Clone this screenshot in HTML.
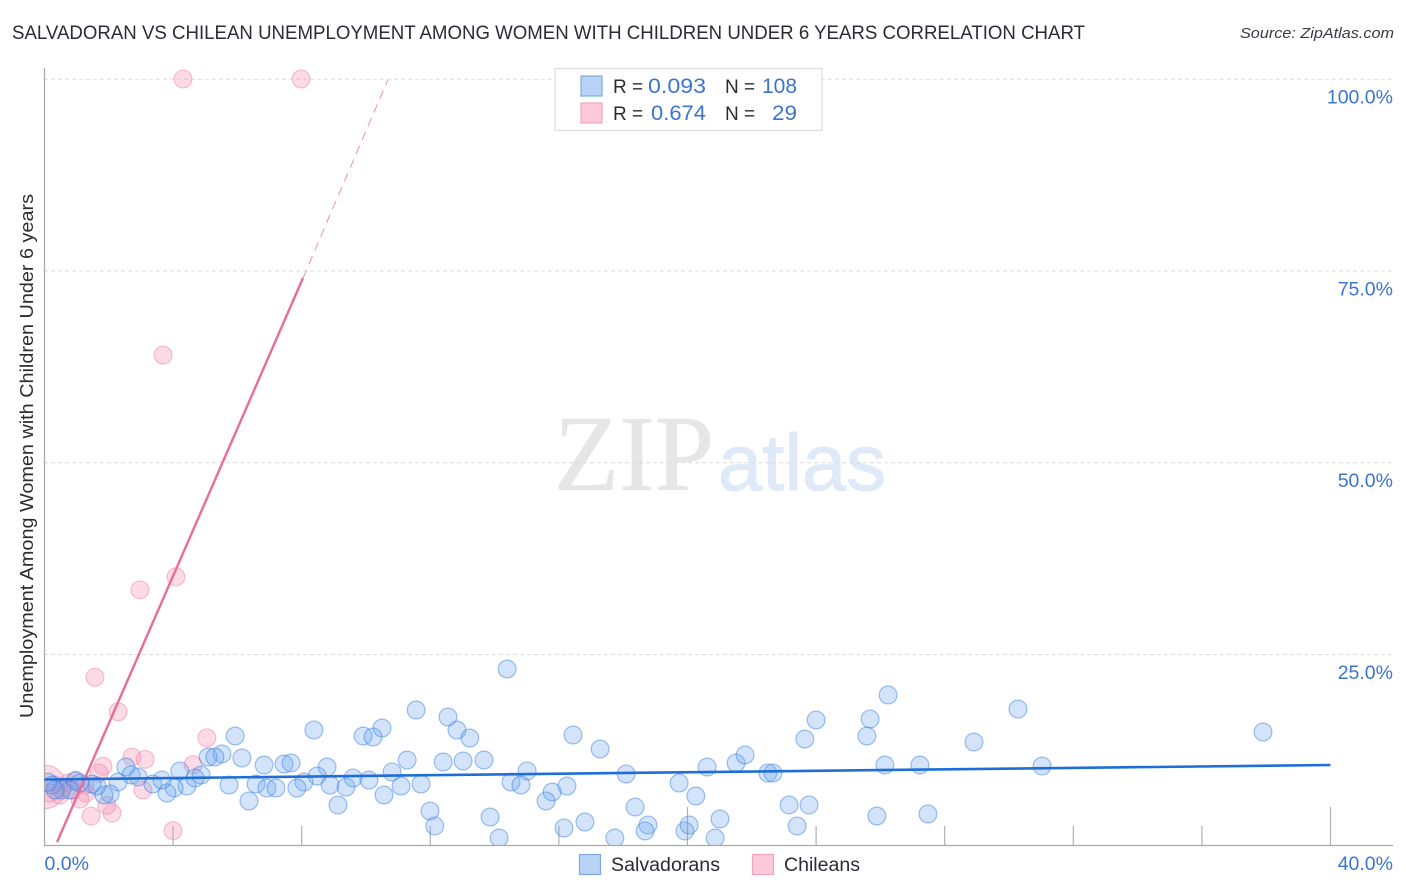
<!DOCTYPE html>
<html lang="en">
<head>
<meta charset="utf-8">
<title>Salvadoran vs Chilean Unemployment Correlation Chart</title>
<style>
html,body{margin:0;padding:0;background:#fff;}
svg{display:block;font-family:"Liberation Sans",sans-serif;}
</style>
</head>
<body>
<svg id="chart" width="1406" height="892" viewBox="0 0 1406 892" xmlns="http://www.w3.org/2000/svg">
  <defs>
    <clipPath id="plot-clip"><rect x="45" y="60" width="1350" height="785"/></clipPath>
  </defs>
  <rect x="0" y="0" width="1406" height="892" fill="#fff"/>
  <text x="12" y="39" font-size="19" fill="#2b2b33" textLength="1073" lengthAdjust="spacingAndGlyphs">SALVADORAN VS CHILEAN UNEMPLOYMENT AMONG WOMEN WITH CHILDREN UNDER 6 YEARS CORRELATION CHART</text>
  <text x="1394" y="38" font-size="15" font-style="italic" fill="#3a3a42" text-anchor="end" textLength="154" lengthAdjust="spacingAndGlyphs">Source: ZipAtlas.com</text>
  <g>
    <text x="554" y="490" font-family="'Liberation Serif',serif" font-size="108" fill="#e6e6e6" stroke="#e6e6e6" stroke-width="0.6" textLength="160" lengthAdjust="spacingAndGlyphs">ZIP</text>
    <text x="718" y="490" font-size="80" fill="#dfe9f8" stroke="#dfe9f8" stroke-width="1" textLength="168" lengthAdjust="spacingAndGlyphs">atlas</text>
  </g>
  <g id="grid"></g>
  <g id="axes"></g>
  <g id="pink-points" clip-path="url(#plot-clip)"></g>
  <g id="blue-points" clip-path="url(#plot-clip)"></g>
  <g id="trends"></g>
  <g id="tick-labels"></g>
  <text transform="translate(33,456) rotate(-90)" font-size="18" fill="#2b2b33" text-anchor="middle" textLength="524" lengthAdjust="spacingAndGlyphs">Unemployment Among Women with Children Under 6 years</text>

  <g>
    <rect x="555" y="68.5" width="267" height="62" fill="#fff" stroke="#dcdcdc" stroke-width="1.2"/>
    <rect x="581" y="76" width="21" height="20" fill="#b9d3f6" stroke="#7fa9e4" stroke-width="1.2"/>
    <rect x="581" y="103" width="21" height="20" fill="#fcc9da" stroke="#f2a3bf" stroke-width="1.2"/>
    <text x="613" y="93" font-size="19" fill="#2b2b33">R =</text>
    <text x="648" y="93" font-size="21" fill="#3b74d1" textLength="58" lengthAdjust="spacingAndGlyphs">0.093</text>
    <text x="725" y="93" font-size="19" fill="#2b2b33">N =</text>
    <text x="762" y="93" font-size="21" fill="#3b74d1" textLength="35" lengthAdjust="spacingAndGlyphs">108</text>
    <text x="613" y="120" font-size="19" fill="#2b2b33">R =</text>
    <text x="651" y="120" font-size="21" fill="#3b74d1" textLength="55" lengthAdjust="spacingAndGlyphs">0.674</text>
    <text x="725" y="120" font-size="19" fill="#2b2b33">N =</text>
    <text x="772" y="120" font-size="21" fill="#3b74d1" textLength="25" lengthAdjust="spacingAndGlyphs">29</text>
  </g>

  <g>
    <rect x="579.5" y="854.5" width="21" height="20" fill="#b9d3f6" stroke="#7fa9e4" stroke-width="1.2"/>
    <text x="611" y="871" font-size="19" fill="#2b2b33" textLength="109" lengthAdjust="spacingAndGlyphs">Salvadorans</text>
    <rect x="752.5" y="854.5" width="21" height="20" fill="#fcc9da" stroke="#f2a3bf" stroke-width="1.2"/>
    <text x="784" y="871" font-size="19" fill="#2b2b33" textLength="76" lengthAdjust="spacingAndGlyphs">Chileans</text>
  </g>
</svg>
<script>
const salvadoranX = [14.39,26.24,30.28,37.90,11.56,12.55,12.83,13.23,10.50,9.91,10.22,8.38,5.93,5.52,5.09,5.30,6.14,6.83,7.45,7.67,8.79,8.48,8.07,8.88,9.38,9.60,10.09,10.81,11.28,12.40,13.02,13.67,15.01,14.51,14.82,16.25,15.79,15.60,16.44,17.28,18.09,19.74,20.61,21.51,21.79,22.50,22.66,23.65,24.00,25.68,25.58,26.14,27.23,28.91,31.03,20.26,23.16,23.78,18.37,11.99,12.14,13.86,14.14,16.16,16.81,17.74,18.77,18.68,19.92,20.05,20.86,21.01,23.41,25.89,27.48,11.71,11.09,10.56,9.13,6.36,6.58,6.92,7.20,7.85,5.74,4.43,4.03,3.81,3.37,3.65,4.21,4.87,4.68,2.91,2.53,2.69,2.29,2.04,1.85,1.63,1.48,1.10,0.95,0.79,0.54,0.23,0.33,0.11];
const salvadoranY = [23.08,19.69,17.86,14.86,17.73,16.82,15.12,14.08,15.38,14.34,14.21,15.12,14.34,11.99,11.60,11.60,11.47,10.56,10.69,10.82,10.30,9.13,8.34,7.95,7.69,8.87,8.60,9.65,11.21,10.95,11.08,11.21,9.78,8.34,7.95,7.82,7.04,5.87,14.47,12.65,9.39,8.21,10.30,10.82,11.86,9.52,9.52,13.95,16.43,16.56,14.34,10.56,10.56,13.56,10.43,6.52,5.35,5.35,5.08,4.56,2.61,3.78,1.04,2.35,3.13,1.04,2.74,1.96,1.96,2.74,1.04,3.52,2.61,3.91,4.17,8.08,7.82,6.65,5.35,5.87,8.08,7.56,7.56,7.56,7.95,7.82,7.56,6.91,8.08,8.60,9.78,9.26,8.87,9.00,10.30,9.26,8.34,6.78,6.65,7.82,8.08,8.21,8.47,7.30,7.30,7.95,7.30,8.34];
const chileanX = [4.31,7.98,3.69,2.97,4.09,1.57,2.29,5.05,2.72,3.13,4.62,1.82,1.70,0.98,1.29,1.10,1.94,1.45,2.10,4.00,3.06,0.00,0.33,0.54,0.73,0.86,0.48,0.17,1.26];
const chileanY = [100,100,64.0,33.4,35.1,22.0,17.5,14.1,11.6,11.3,10.6,10.4,9.5,8.6,6.9,6.1,5.3,3.9,4.3,2.0,7.3,7.7,7.95,7.56,8.2,7.3,6.65,6.9,7.95];
const chileanWeight = [1,1,1,1,1,1,1,1,1,1,1,1,1,1,1,1,1,1,1,1,1,2.45,1,1,1,1,1,1,1];
const salvadoranTrendX = [0,40];
const salvadoranTrendY = [8.67,10.56];
const chileanTrendX = [0.39,8.04];
const chileanTrendY = [0.5,74.05];
const chileanDashX = [8.04,10.68];
const chileanDashY = [74.05,99.9];
const yTicks = [100,75,50,25];
const yTickLabels = ["100.0%","75.0%","50.0%","25.0%"];
const xTicks = [4,8,12,16,20,24,28,32,36,40];
const xEndTicks = [0,40];
const xEndLabels = ["0.0%","40.0%"];

const NS = "http://www.w3.org/2000/svg";
function xScale(v){ return 44.5 + v * 32.15; }
function yScale(v){ return 846 - v * 7.67; }
function make(parent, tag, attrs){
  const el = document.createElementNS(NS, tag);
  for (const k in attrs) el.setAttribute(k, attrs[k]);
  parent.appendChild(el);
  return el;
}

const gridG = document.getElementById("grid");
yTicks.forEach(function(t){
  const el = make(gridG, "line", {x1:44, x2:1393, y1:yScale(t)+0.2, y2:yScale(t)+0.2, stroke:"#dcdcdc", "stroke-width":1, "stroke-dasharray":"4 3"});
  
  
});

const axesG = document.getElementById("axes");
const yAxisLine = make(axesG, "line", {x1:44.5, x2:44.5, y1:68, y2:846, stroke:"#aaaaaa", "stroke-width":1.3});


const xAxisLine = make(axesG, "line", {x1:44, x2:1393, y1:845.5, y2:845.5, stroke:"#aaaaaa", "stroke-width":1.3});


xTicks.forEach(function(t){
  const top = t % 20 === 0 ? 807 : 826;
  const el = make(axesG, "line", {x1:xScale(t), x2:xScale(t), y1:top, y2:845, stroke:"#b0b0b0", "stroke-width":1.2});
  
  
});

function drawPoints(groupId, xs, ys, weights, fill, stroke, name){
  const g = document.getElementById(groupId);
  xs.forEach(function(x, i){
    const w = weights ? weights[i] : 1;
    const el = make(g, "circle", {cx:xScale(x), cy:yScale(ys[i]), r:8.9 * w, fill:fill, stroke:stroke, "stroke-width":1.2});
    
    
  });
}
drawPoints("pink-points", chileanX, chileanY, chileanWeight, "rgba(245,150,182,0.34)", "rgba(240,140,175,0.55)", "chilean-point");
drawPoints("blue-points", salvadoranX, salvadoranY, null, "rgba(110,165,238,0.30)", "rgba(60,130,225,0.50)", "salvadoran-point");

const trendsG = document.getElementById("trends");
const chileanDash = make(trendsG, "line", {x1:xScale(chileanDashX[0]), y1:yScale(chileanDashY[0]), x2:xScale(chileanDashX[1]), y2:yScale(chileanDashY[1]), stroke:"#ec8fb0", "stroke-width":1, "stroke-dasharray":"9 6"});


const chileanTrend = make(trendsG, "line", {x1:xScale(chileanTrendX[0]), y1:yScale(chileanTrendY[0]), x2:xScale(chileanTrendX[1]), y2:yScale(chileanTrendY[1]), stroke:"#e96c9a", "stroke-width":2.4});


const salvadoranTrend = make(trendsG, "line", {x1:xScale(salvadoranTrendX[0]), y1:yScale(salvadoranTrendY[0]), x2:xScale(salvadoranTrendX[1]), y2:yScale(salvadoranTrendY[1]), stroke:"#1f6ed8", "stroke-width":2.6});



const labelsG = document.getElementById("tick-labels");
yTicks.forEach(function(t, i){
  const el = make(labelsG, "text", {x:1393, y:yScale(t)+24.5, "font-size":19.5, fill:"#3b74d1", "text-anchor":"end"});
  el.textContent = yTickLabels[i];
  
  
});
xEndTicks.forEach(function(t, i){
  const el = i === 0
    ? make(labelsG, "text", {x:xScale(t), y:870, "font-size":19.5, fill:"#3b74d1"})
    : make(labelsG, "text", {x:1393, y:870, "font-size":19.5, fill:"#3b74d1", "text-anchor":"end"});
  el.textContent = xEndLabels[i];
  
  
});
</script>
</body>
</html>
